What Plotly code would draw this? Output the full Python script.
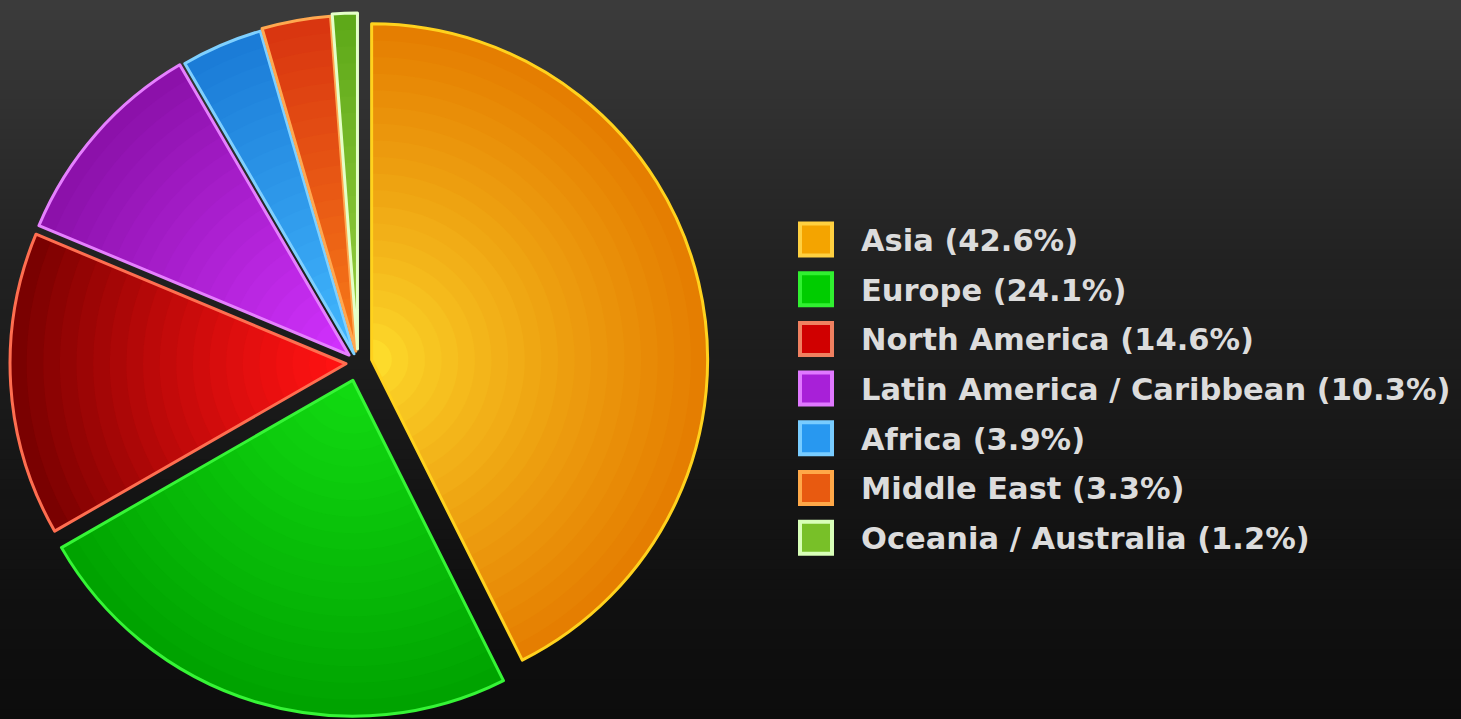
import plotly.graph_objects as go

# ---- data ----
regions = ["Asia", "Europe", "North America", "Latin America / Caribbean",
           "Africa", "Middle East", "Oceania / Australia"]
shares = [42.6, 24.1, 14.6, 10.3, 3.9, 3.3, 1.2]

# ---- styling ----
inner_colors = ["#FFE22E", "#12DC12", "#FF1212", "#D232FF", "#42B8FF", "#F87C18", "#9AD040"]
outer_colors = ["#E47C00", "#00A200", "#760000", "#8A10A8", "#1A7AD6", "#D83410", "#5CA818"]
shade_exp = [0.75, 1.0, 1.3, 1.0, 1.0, 1.0, 1.0]
edge_colors = ["#FFD21E", "#36F536", "#FF6E50", "#E680FF", "#7FD0FF", "#FFA850", "#E4FFC8"]
key_fill = ["#F4A400", "#00CC00", "#D00000", "#A820D8", "#2898F0", "#E85A10", "#78C028"]
key_edge = ["#FFD040", "#30F030", "#F08060", "#E078FF", "#78CCFF", "#FFA848", "#D8FFB8"]
pull_px = [14, 18, 12, 12, 10, 12, 14]

W, H = 1461, 719
CX, CY, R = 358, 363, 336
MAXP = max(pull_px)


def hex2rgb(h):
    h = h.lstrip("#")
    return [int(h[i:i + 2], 16) for i in (0, 2, 4)]


def mix(c_in, c_out, t):
    a, b = hex2rgb(c_in), hex2rgb(c_out)
    return "rgb(%d,%d,%d)" % tuple(round(a[i] + (b[i] - a[i]) * t) for i in range(3))


def domain_for(r):
    half = r + MAXP
    return dict(x=[(CX - half) / W, (CX + half) / W],
                y=[1 - (CY + half) / H, 1 - (CY - half) / H])


fig = go.Figure()

# concentric layers to imitate the radial shading of each slice
N = 20
rhos = [1 - k * (0.94 / (N - 1)) for k in range(N)]
for k, rho in enumerate(rhos):
    nxt = rhos[k + 1] if k + 1 < N else 0.0
    m = (rho + nxt) / 2
    r = R * rho
    fig.add_trace(go.Pie(
        values=shares, labels=regions, sort=False, direction="clockwise", rotation=0,
        pull=[p / r for p in pull_px], domain=domain_for(r),
        marker=dict(colors=[mix(ci, co, m ** e)
                            for ci, co, e in zip(inner_colors, outer_colors, shade_exp)],
                    line=dict(width=0)),
        textinfo="none", hoverinfo="skip", showlegend=False))

# outline layer
fig.add_trace(go.Pie(
    values=shares, labels=regions, sort=False, direction="clockwise", rotation=0,
    pull=[p / R for p in pull_px], domain=domain_for(R),
    marker=dict(colors=["rgba(0,0,0,0)"] * len(shares),
                line=dict(color=edge_colors, width=3)),
    textinfo="none", hoverinfo="skip", showlegend=False))

# background vertical gradient
shapes = []
stops = [(0.0, 0x3c), (0.35, 0x22), (0.7, 0x14), (1.0, 0x0c)]
nb = 72
for i in range(nb):
    f = (i + 0.5) / nb
    for (a, va), (b, vb) in zip(stops[:-1], stops[1:]):
        if a <= f <= b:
            v = round(va + (vb - va) * (f - a) / (b - a))
            break
    shapes.append(dict(type="rect", xref="paper", yref="paper", layer="below",
                       x0=0, x1=1, y0=1 - i / nb, y1=1 - (i + 1) / nb - 0.002,
                       line=dict(width=0), fillcolor="rgb(%d,%d,%d)" % (v, v, v)))

# custom legend
annotations = []
y0, dy = 239.5, 49.7
for i, (name, val) in enumerate(zip(regions, shares)):
    yc = y0 + dy * i
    shapes.append(dict(type="rect", xref="paper", yref="paper", layer="above",
                       x0=800 / W, x1=832 / W, y0=1 - (yc + 16) / H, y1=1 - (yc - 16) / H,
                       line=dict(color=key_edge[i], width=4), fillcolor=key_fill[i]))
    annotations.append(dict(xref="paper", yref="paper", x=859 / W, y=1 - (yc + 1) / H,
                            xanchor="left", yanchor="middle", showarrow=False,
                            text=f"{name} ({val}%)",
                            font=dict(family="DejaVu Sans", size=30.5, color="#dcdcdc", weight="bold")))

fig.update_layout(width=W, height=H, margin=dict(l=0, r=0, t=0, b=0),
                  paper_bgcolor="#1c1c1c", plot_bgcolor="rgba(0,0,0,0)",
                  showlegend=False, shapes=shapes, annotations=annotations)

fig.write_html("out.html", config={"displayModeBar": False})
